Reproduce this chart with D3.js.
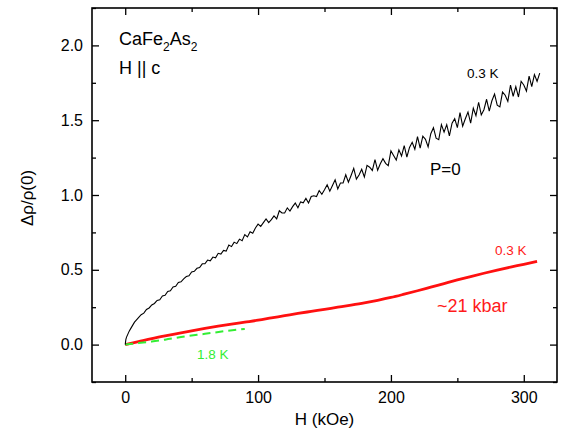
<!DOCTYPE html>
<html>
<head>
<meta charset="utf-8">
<script src="https://cdn.jsdelivr.net/npm/d3@7"></script>
<style>
  body { margin: 0; background: #fff; }
  text { font-family: "Liberation Sans", Arial, sans-serif; }
</style>
</head>
<body>
<svg id="chart" width="566" height="444"></svg>
<script>
// P=0, 0.3 K curve (black)
var fieldBlack = [0,0.5,1,2,3,4,5,6,7,8,10,12,14,16,18,20,22,24,26,28,30,32,34,36,38,40,42,44,46,48,50,52,54,56,58,60,62,64,66,68,70,72,74,76,78,80,82,84,86,88,90,92,94,96,98,
  100,102,104,106,108,110,112,114,116,118,120,122,124,126,128,130,132,134,136,138,140,142,144,146,148,150,152,154,156,158,160,162,164,166,168,170,172,174,176,178,180,182,184,186,188,190,192,194,196,198,
  200,202,204,206,208,210,212,214,216,218,220,222,224,226,228,230,232,234,236,238,240,242,244,246,248,250,252,254,256,258,260,262,264,266,268,270,272,274,276,278,280,282,284,286,288,290,292,294,296,298,
  300,302,304,306,308,310,312];
var rhoBlack = [0,0.035,0.05,0.07,0.09,0.105,0.12,0.135,0.15,0.16,0.18,0.20,0.21,0.235,0.245,0.265,0.275,0.295,0.30,0.325,0.33,0.355,0.36,0.385,0.39,0.415,0.42,0.44,0.455,0.46,0.485,0.49,0.51,0.515,0.54,0.54,0.565,0.56,0.585,0.58,0.61,0.605,0.63,0.625,0.665,0.655,0.685,0.675,0.705,0.695,0.735,0.72,0.755,0.745,0.78,
  0.805,0.79,0.815,0.84,0.815,0.835,0.86,0.84,0.895,0.88,0.88,0.914,0.893,0.922,0.946,0.915,0.954,0.948,0.977,0.946,0.99,0.995,0.99,1.03,1.005,1.035,
  1.068,1.026,1.064,1.102,1.04,1.08,1.08,1.135,1.085,1.13,1.178,1.106,1.134,1.172,1.12,1.198,1.186,1.164,1.237,1.165,1.209,1.243,1.212,1.196,
  1.295,1.264,1.233,1.302,1.261,1.33,1.254,1.318,1.352,1.306,1.39,
  1.314,1.393,1.372,1.321,1.41,1.45,1.38,1.37,1.47,1.42,1.47,1.395,1.48,1.51,1.45,1.55,1.46,1.51,1.555,1.48,1.58,1.53,1.62,1.535,1.57,1.64,1.56,1.63,1.675,1.60,
  1.589,1.688,1.667,1.626,1.735,1.66,1.725,1.655,1.76,1.735,1.695,1.795,1.725,1.805,1.76,1.815];

// ~21 kbar, 0.3 K curve (red)
var fieldRed = [0,10,20,30,40,50,60,70,80,90,100,110,120,130,140,150,160,170,180,190,200,210,220,230,240,250,260,270,280,290,300,310];
var rhoRed = [0,0.02,0.04,0.058,0.075,0.092,0.108,0.123,0.137,0.15,0.163,0.178,0.193,0.208,0.222,0.236,0.25,0.264,0.279,0.296,0.315,0.337,0.36,0.384,0.408,0.432,0.455,0.477,0.498,0.518,0.537,0.557];

// ~21 kbar, 1.8 K curve (green dashed)
var fieldGreen = [0,10,20,30,45,60,75,90];
var rhoGreen = [0,0.01,0.02,0.033,0.055,0.072,0.09,0.105];

var xTicks = [0,100,200,300];
var xMinor = [50,150,250];
var yTicks = [0,0.5,1,1.5,2];
var yMinor = [-0.25,0.25,0.75,1.25,1.75,2.25];

var svg = d3.select("#chart");
var pLeft = 92, pRight = 557, pTop = 8, pBottom = 382;

var x = d3.scaleLinear().domain([-25, 325]).range([pLeft, pRight]);
var y = d3.scaleLinear().domain([-0.25, 2.25]).range([pBottom, pTop]);

function zip(a, b) { return a.map(function(d, i) { return [d, b[i]]; }); }
var line = d3.line().curve(d3.curveMonotoneX)
  .x(function(d){ return x(d[0]); }).y(function(d){ return y(d[1]); });
var rawLine = d3.line().x(function(d){ return x(d[0]); }).y(function(d){ return y(d[1]); });

// curves
svg.append("path").datum(zip(fieldRed, rhoRed)).attr("d", line)
  .attr("fill", "none").attr("stroke", "#ff1010").attr("stroke-width", 2.8);
svg.append("path").datum(zip(fieldGreen, rhoGreen)).attr("d", line)
  .attr("fill", "none").attr("stroke", "#33ee33").attr("stroke-width", 2)
  .attr("stroke-dasharray", "8,5");
svg.append("path").datum(zip(fieldBlack, rhoBlack)).attr("d", rawLine)
  .attr("fill", "none").attr("stroke", "#000").attr("stroke-width", 1.1);

// axes, ticks inward
function fmtY(d) { return d3.format(".1f")(d); }
svg.append("g").attr("transform", "translate(0," + pBottom + ")")
  .call(d3.axisBottom(x).tickValues(xTicks).tickSize(-7).tickPadding(10));
svg.append("g").attr("transform", "translate(0," + pBottom + ")")
  .call(d3.axisBottom(x).tickValues(xMinor).tickSize(-4).tickFormat(""));
svg.append("g").attr("transform", "translate(0," + pTop + ")")
  .call(d3.axisTop(x).tickValues(xTicks).tickSize(-7).tickFormat(""));
svg.append("g").attr("transform", "translate(0," + pTop + ")")
  .call(d3.axisTop(x).tickValues(xMinor).tickSize(-4).tickFormat(""));
svg.append("g").attr("transform", "translate(" + pLeft + ",0)")
  .call(d3.axisLeft(y).tickValues(yTicks).tickSize(-7).tickPadding(9).tickFormat(fmtY));
svg.append("g").attr("transform", "translate(" + pLeft + ",0)")
  .call(d3.axisLeft(y).tickValues(yMinor).tickSize(-4).tickFormat(""));
svg.append("g").attr("transform", "translate(" + pRight + ",0)")
  .call(d3.axisRight(y).tickValues(yTicks).tickSize(-7).tickFormat(""));
svg.append("g").attr("transform", "translate(" + pRight + ",0)")
  .call(d3.axisRight(y).tickValues(yMinor).tickSize(-4).tickFormat(""));

svg.selectAll(".domain").remove();
svg.selectAll(".tick line").attr("stroke", "#000").attr("stroke-width", 1.3);
svg.selectAll(".tick text").attr("font-size", 16).attr("fill", "#000")
  .style("font-family", "'Liberation Sans', Arial, sans-serif");

svg.append("rect").attr("x", pLeft).attr("y", pTop)
  .attr("width", pRight - pLeft).attr("height", pBottom - pTop)
  .attr("fill", "none").attr("stroke", "#000").attr("stroke-width", 1.6);

// axis titles
svg.append("text").attr("x", x(150)).attr("y", 425).attr("text-anchor", "middle")
  .attr("font-size", 17).text("H (kOe)");
svg.append("text").attr("transform", "translate(33,198) rotate(-90)")
  .attr("text-anchor", "middle").attr("font-size", 17).text("\u0394\u03c1/\u03c1(0)");

// annotations
var t1 = svg.append("text").attr("x", 119).attr("y", 45).attr("font-size", 18);
t1.append("tspan").text("CaFe");
t1.append("tspan").attr("font-size", 12).attr("dy", 6).text("2");
t1.append("tspan").attr("dy", -6).text("As");
t1.append("tspan").attr("font-size", 12).attr("dy", 6).text("2");
svg.append("text").attr("x", 119).attr("y", 74).attr("font-size", 18).text("H || c");

svg.append("text").attr("x", 467).attr("y", 78).attr("font-size", 13.5).text("0.3 K");
svg.append("text").attr("x", 430).attr("y", 175).attr("font-size", 17).text("P=0");
svg.append("text").attr("x", 495).attr("y", 255).attr("font-size", 13.5)
  .attr("fill", "#ff1a1a").text("0.3 K");
svg.append("text").attr("x", 437).attr("y", 312).attr("font-size", 18)
  .attr("fill", "#ff1a1a").text("~21 kbar");
svg.append("text").attr("x", 197).attr("y", 359).attr("font-size", 13.5)
  .attr("fill", "#33ee33").text("1.8 K");
</script>
</body>
</html>
